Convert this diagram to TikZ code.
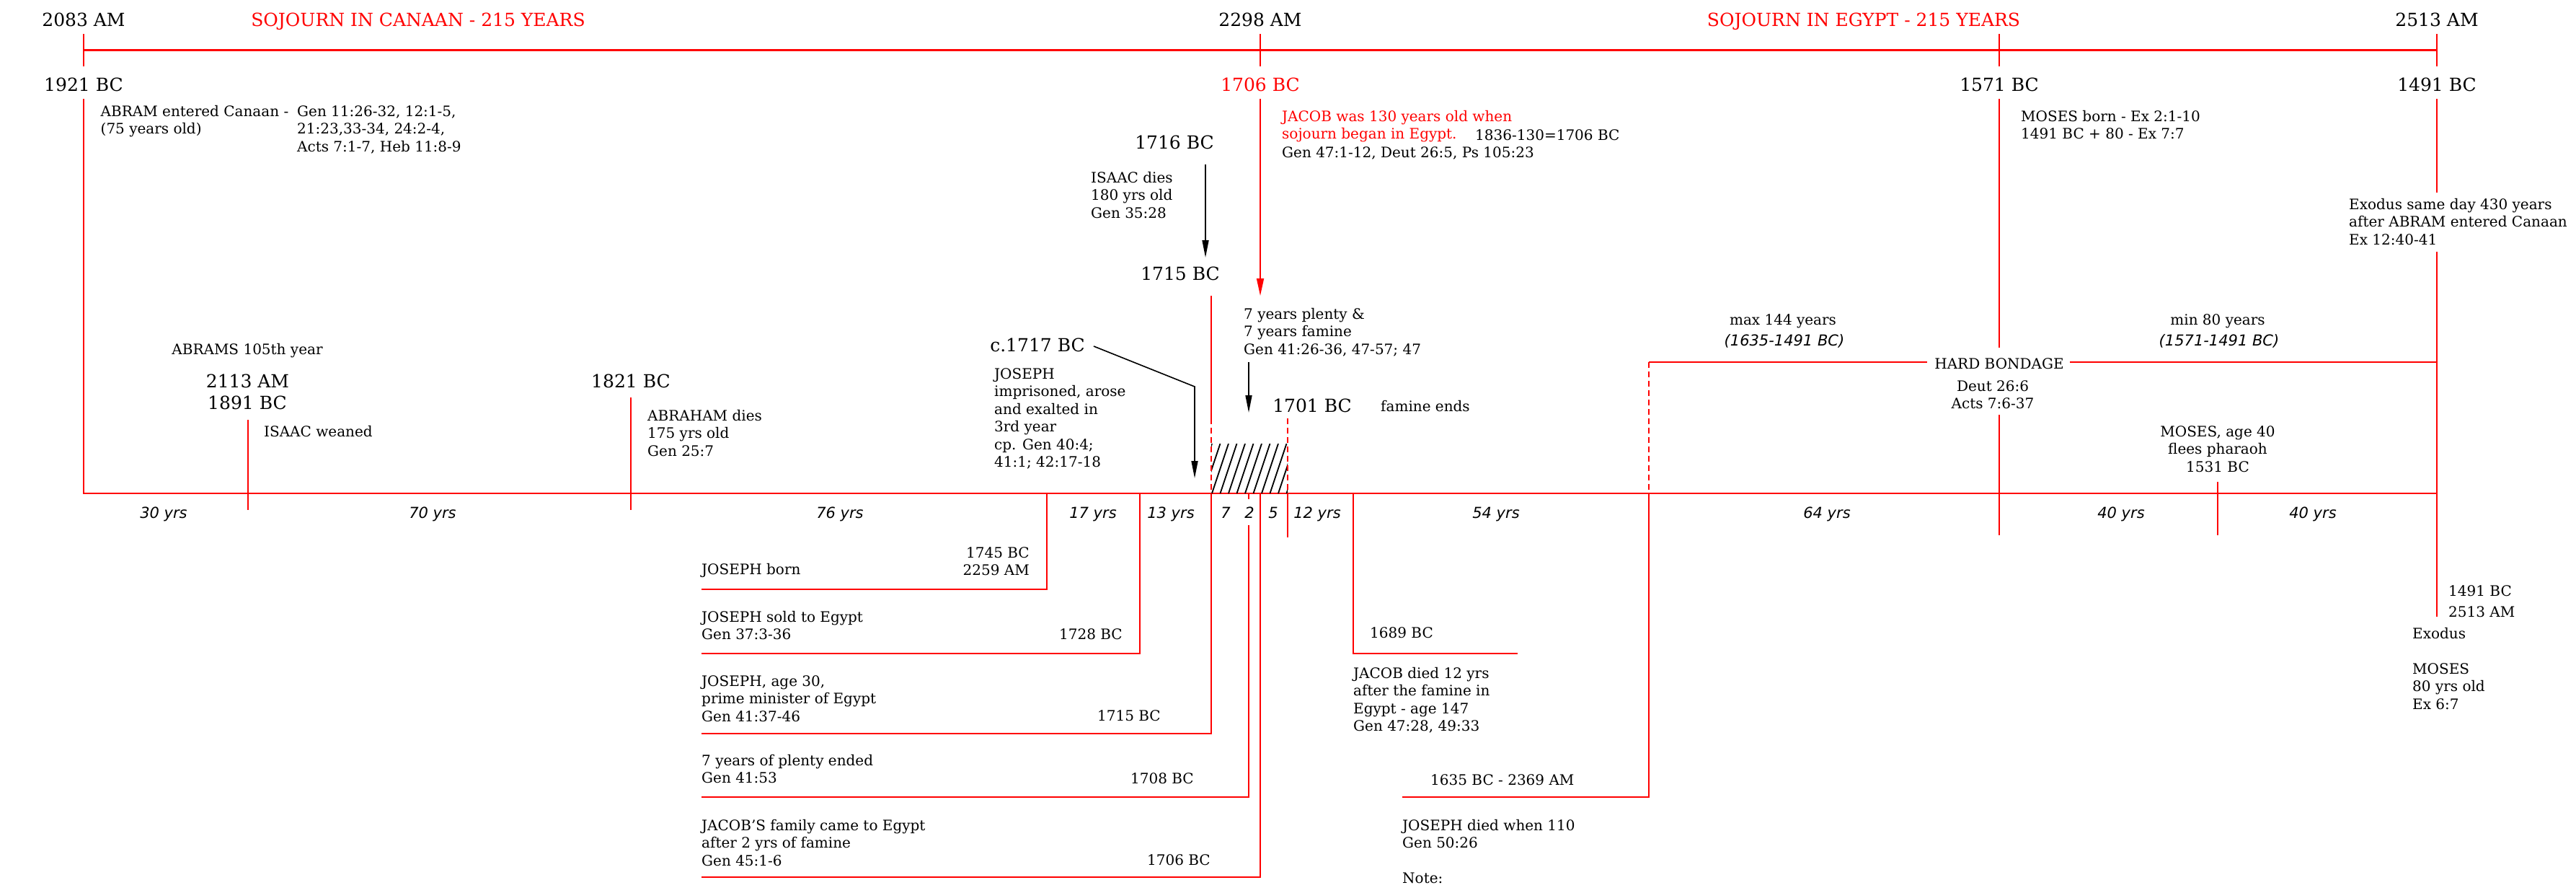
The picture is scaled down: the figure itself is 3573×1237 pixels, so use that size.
\documentclass[tikz,border=0pt]{standalone}
\usepackage{fontspec}
\setmainfont{DejaVu Serif}
\newfontfamily\yrsfont{DejaVu Sans}
\usetikzlibrary{arrows.meta}
\begin{document}
\begin{tikzpicture}[x=1pt,y=-1pt,
  mainline/.style={draw=red, line width=2.2pt},
  rthin/.style={draw=red, line width=1.7pt},
  rdash/.style={draw=red, line width=1.7pt, dash pattern=on 8pt off 5pt},
  sm/.style={inner sep=0pt, align=left, font=\fontsize{20}{24.5}\selectfont},
  lg/.style={inner sep=0pt, font=\fontsize{25}{30}\selectfont},
  yr/.style={inner sep=0pt, font=\fontsize{21}{24}\selectfont\yrsfont\itshape},
  blackarrow/.style={draw=black, line width=1.6pt, -{Triangle[length=24pt,width=9pt]}},
  redarrow/.style={draw=red, line width=1.7pt, -{Triangle[length=24pt,width=10pt]}},
]
\fill[white] (0,0) rectangle (3573,1237);
\useasboundingbox (0,0) rectangle (3573,1237);

% ---------- top scale ----------
\node[lg,anchor=base] (am2083) at (116,36) {2083 AM};
\node[lg,anchor=base,text=red] (canaan) at (580,36) {SOJOURN IN CANAAN - 215 YEARS};
\node[lg,anchor=base] (am2298) at (1748,36) {2298 AM};
\node[lg,anchor=base,text=red] (egypt) at (2585,36) {SOJOURN IN EGYPT - 215 YEARS};
\node[lg,anchor=base] (am2513) at (3380,36) {2513 AM};

\draw[mainline] (116,69.5) -- (3380,69.5);
\foreach \x in {116,1748,2773,3380} \draw[rthin] (\x,47) -- (\x,92);

\node[lg,anchor=base] (bc1921) at (116,126) {1921 BC};
\node[lg,anchor=base,text=red] (bc1706) at (1748,126) {1706 BC};
\node[lg,anchor=base] (bc1571) at (2773,126) {1571 BC};
\node[lg,anchor=base] (bc1491) at (3380,126) {1491 BC};

% ---------- main timeline ----------
\draw[mainline] (116,137) -- (116,684) -- (3380,684);

% 1921 BC text
\node[sm,anchor=north west] (abram) at (139.5,146) {ABRAM entered Canaan -\\(75 years old)};
\node[sm,anchor=north west] (abramref) at (412,146) {Gen 11:26-32, 12:1-5,\\21:23,33-34, 24:2-4,\\Acts 7:1-7, Heb 11:8-9};

% 1706 BC
\draw[redarrow] (1748,137) -- (1748,410);
\node[sm,anchor=north west,text=red] (jacob) at (1778,153) {JACOB was 130 years old when\\sojourn began in Egypt.};
\node[sm,anchor=base west] (jacobcalc) at (2046,194.3) {1836-130=1706 BC};
\node[sm,anchor=base west] (jacobref) at (1778,218.3) {Gen 47:1-12, Deut 26:5, Ps 105:23};

% 1571 BC
\draw[rthin] (2773,137) -- (2773,482);
\draw[rthin] (2773,575) -- (2773,742);
\node[sm,anchor=north west] (mosesborn) at (2803,153) {MOSES born - Ex 2:1-10\\1491 BC + 80 - Ex 7:7};

% 1491 BC
\draw[rthin] (3380,137) -- (3380,267);
\draw[rthin] (3380,349) -- (3380,855);
\node[sm,anchor=north west] (exodus) at (3258,275) {Exodus same day 430 years\\after ABRAM entered Canaan\\Ex 12:40-41};

% Isaac dies
\node[lg,anchor=base] (bc1716) at (1629,206) {1716 BC};
\node[sm,anchor=north west] (isaac) at (1513,238) {ISAAC dies\\180 yrs old\\Gen 35:28};
\coordinate (a1s) at (1672,228);
\coordinate (a1e) at (1672,357);
\draw[blackarrow] (a1s) -- (a1e);
\node[lg,anchor=base] (bc1715) at (1637,388) {1715 BC};

% famine block
\draw[rthin] (1680,410) -- (1680,580);
\begin{scope}
  \clip (1680,615) rectangle (1786,684);
  \foreach \i in {0,...,12} \draw[line width=1.8pt] ({1658+\i*11.5},684) -- ++(23,-69);
\end{scope}
\draw[rdash] (1680,580) -- (1680,684);
\draw[rdash] (1786,580) -- (1786,684);

\node[sm,anchor=north west] (plenty) at (1725,427) {7 years plenty \&\\7 years famine\\Gen 41:26-36, 47-57; 47};
\coordinate (a3s) at (1732,502);
\coordinate (a3e) at (1732,572);
\draw[blackarrow] (a3s) -- (a3e);
\node[lg,anchor=base] (bc1701) at (1820,571) {1701 BC};
\node[sm,anchor=base west] (famineends) at (1915,570.3) {famine ends};

% c.1717
\node[lg,anchor=base] (bc1717) at (1439,487) {c.1717 BC};
\coordinate (a2s) at (1517,480);
\coordinate (a2m) at (1657,536);
\coordinate (a2e) at (1657,663);
\draw[blackarrow] (a2s) -- (a2m) -- (a2e);
\node[sm,anchor=north west] (imprisoned) at (1379,510) {JOSEPH\\imprisoned, arose\\and exalted in\\3rd year\\cp. Gen 40:4;\\41:1; 42:17-18};

% Isaac weaned
\node[sm,anchor=base] (abrams105) at (343,491.3) {ABRAMS 105th year};
\node[lg,anchor=base] (am2113) at (343.5,537) {2113 AM};
\node[lg,anchor=base] (bc1891) at (343,567) {1891 BC};
\draw[rthin] (344,582) -- (344,707);
\node[sm,anchor=base west] (weaned) at (366,605.3) {ISAAC weaned};

% Abraham dies
\node[lg,anchor=base] (bc1821) at (875,537) {1821 BC};
\draw[rthin] (875,551) -- (875,707);
\node[sm,anchor=north west] (abraham) at (898,568) {ABRAHAM dies\\175 yrs old\\Gen 25:7};

% hard bondage
\node[sm,anchor=base] (hard) at (2773,511.3) {HARD BONDAGE};
\draw[rthin] (2287,502) -- (2673,502);
\draw[rthin] (2871,502) -- (3380,502);
\draw[rdash] (2287,502) -- (2287,684);
\node[sm,anchor=north,align=center] (deut) at (2764,527) {Deut 26:6\\Acts 7:6-37};
\node[sm,anchor=base] (max144) at (2473,450.3) {max 144 years};
\node[yr,anchor=base] (range1) at (2475,479.5) {(1635-1491 BC)};
\node[sm,anchor=base] (min80) at (3076,450.3) {min 80 years};
\node[yr,anchor=base] (range2) at (3078,479.5) {(1571-1491 BC)};

% Moses flees
\node[sm,anchor=north,align=center] (moses40) at (3076,590) {MOSES, age 40\\flees pharaoh\\1531 BC};
\draw[rthin] (3076,668) -- (3076,742);

% year spans
\foreach \x/\t in {227/30 yrs,600/70 yrs,1165/76 yrs,1516/17 yrs,1624/13 yrs,1700/7,1733/2,1766/5,1827/12 yrs,2075/54 yrs,2534/64 yrs,2942/40 yrs,3208/40 yrs}
  \node[yr,anchor=base] at (\x,718.5) {\t};

% brackets below
\draw[rthin] (973,817) -| (1452,684);
\draw[rthin] (973,906) -| (1581,684);
\draw[rthin] (973,1017) -| (1680,684);
\draw[rthin] (1732,684) -- (1732,692);
\draw[rthin] (973,1105) -| (1732,728);
\draw[rthin] (973,1216) -| (1748,684);
\draw[rthin] (1786,684) -- (1786,745);
\draw[rthin] (1877,684) |- (2105,906);
\draw[rthin] (1945,1105) -| (2287,684);

\node[sm,anchor=base west] (jborn) at (973,796.3) {JOSEPH born};
\node[sm,anchor=north east,align=right] (jborndate) at (1428,758) {1745 BC\\2259 AM};
\node[sm,anchor=north west] (jsold) at (973,847) {JOSEPH sold to Egypt\\Gen 37:3-36};
\node[sm,anchor=base east] (jsolddate) at (1557,886.3) {1728 BC};
\node[sm,anchor=north west] (j30) at (973,936) {JOSEPH, age 30,\\prime minister of Egypt\\Gen 41:37-46};
\node[sm,anchor=base east] (j30date) at (1610,999.3) {1715 BC};
\node[sm,anchor=north west] (plentyend) at (973,1046) {7 years of plenty ended\\Gen 41:53};
\node[sm,anchor=base east] (plentyenddate) at (1656,1086.3) {1708 BC};
\node[sm,anchor=north west] (family) at (973,1136) {JACOB'S family came to Egypt\\after 2 yrs of famine\\Gen 45:1-6};
\node[sm,anchor=base east] (familydate) at (1679,1199.3) {1706 BC};

\node[sm,anchor=base west] (bc1689) at (1900,884.3) {1689 BC};
\node[sm,anchor=north west] (jacobdied) at (1877,925) {JACOB died 12 yrs\\after the famine in\\Egypt - age 147\\Gen 47:28, 49:33};
\node[sm,anchor=base west] (bc1635) at (1984,1088.3) {1635 BC - 2369 AM};
\node[sm,anchor=north west] (jdied) at (1945,1136) {JOSEPH died when 110\\Gen 50:26\\[24.5pt]Note:};

\node[sm,anchor=base west] (bc1491b) at (3396,826.3) {1491 BC};
\node[sm,anchor=base west] (am2513b) at (3396,855.3) {2513 AM};
\node[sm,anchor=north west] (exodus2) at (3346,870) {Exodus\\[24.5pt]MOSES\\80 yrs old\\Ex 6:7};
\end{tikzpicture}
\end{document}
